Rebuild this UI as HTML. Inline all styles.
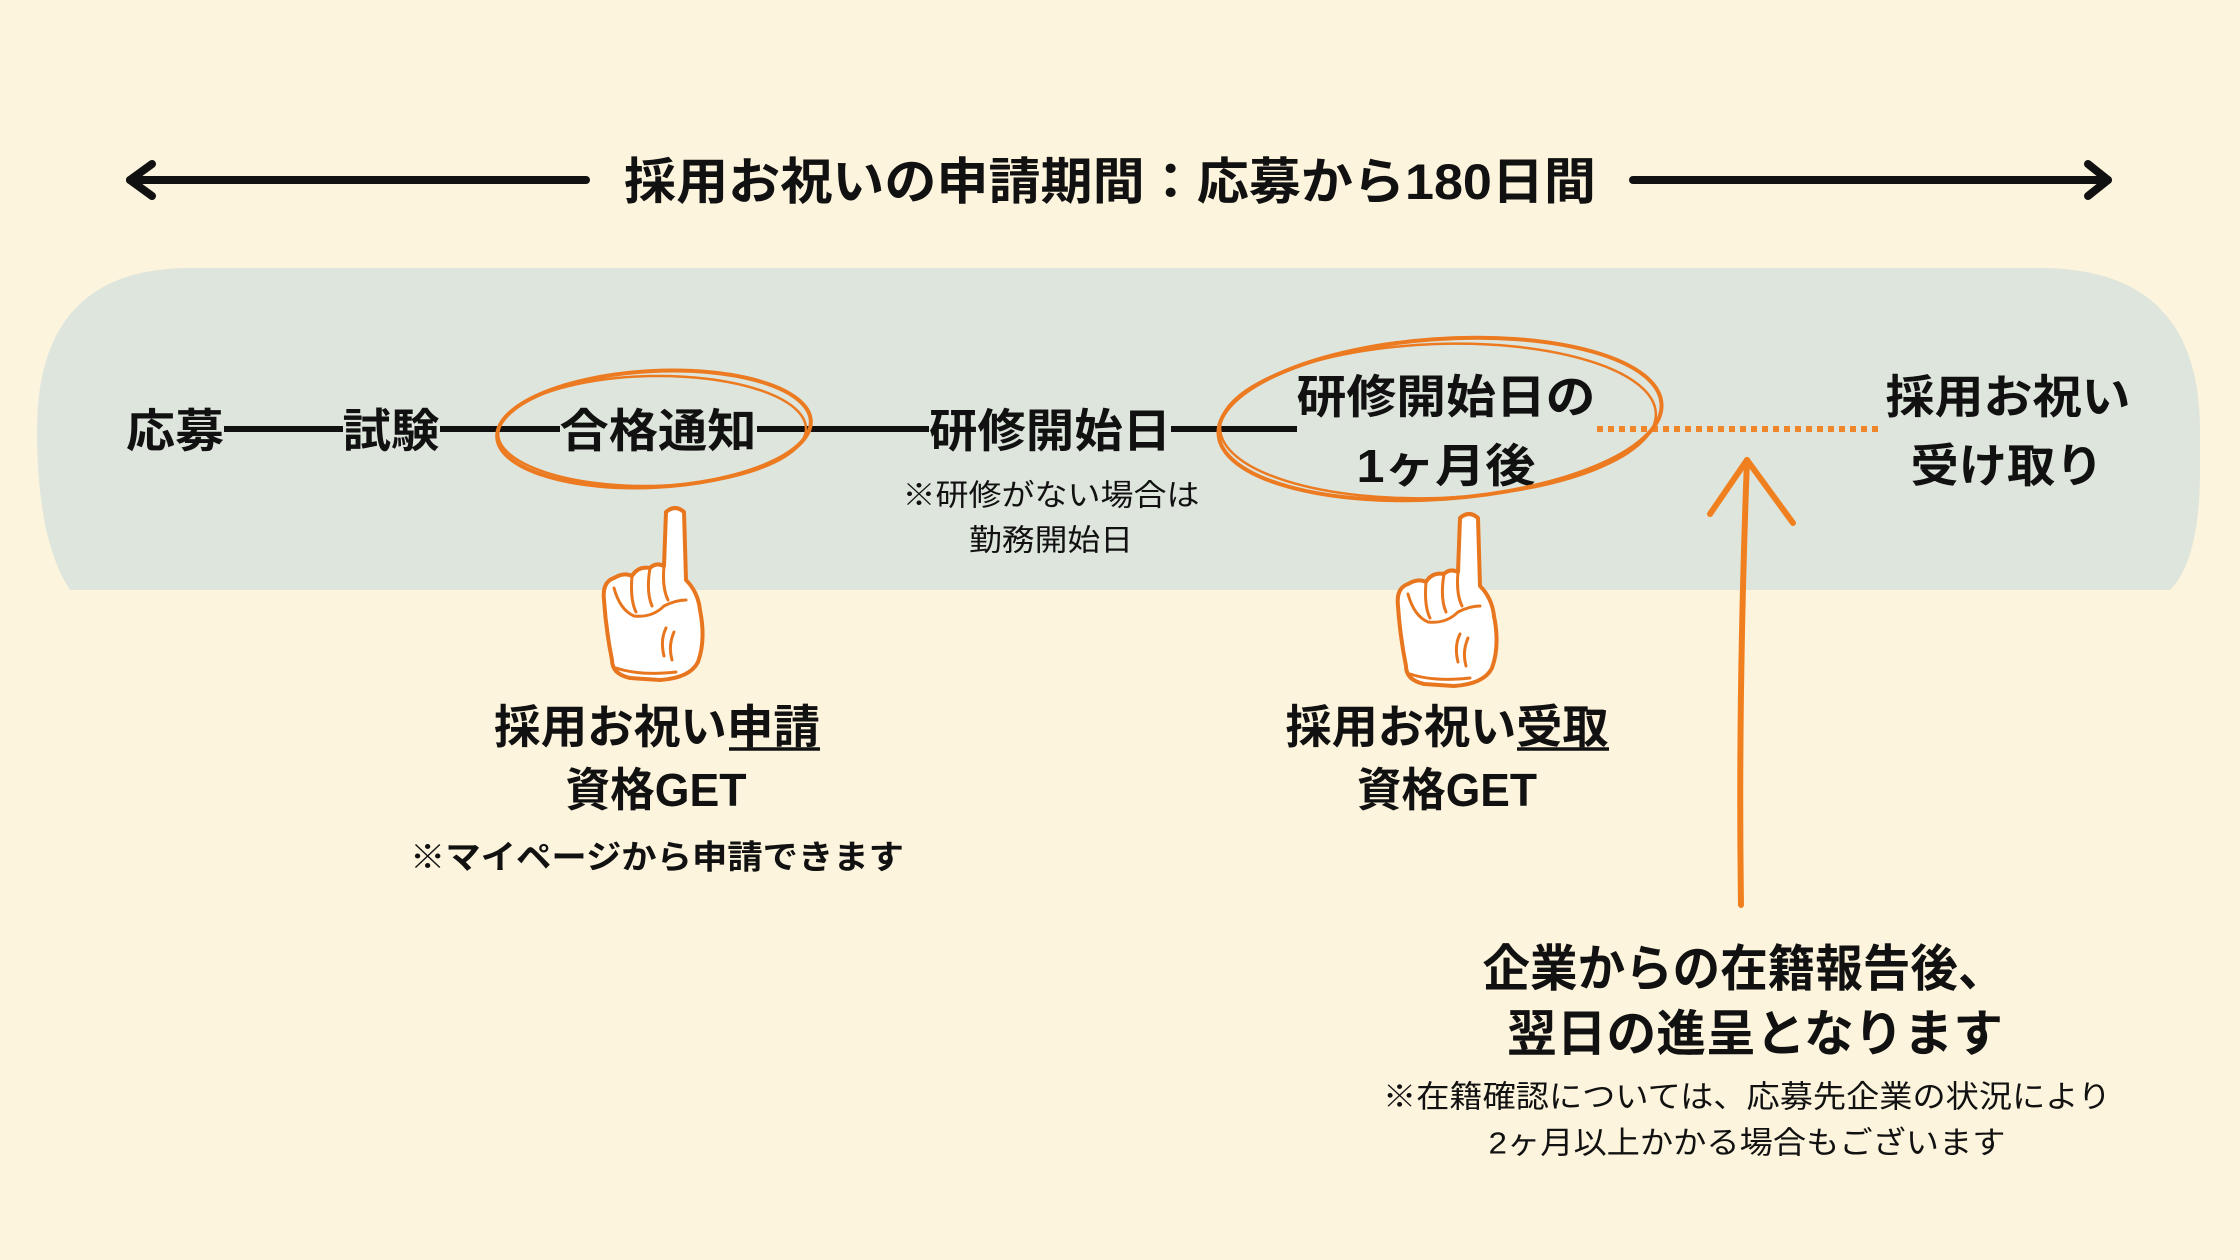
<!DOCTYPE html>
<html><head><meta charset="utf-8"><style>
html,body{margin:0;padding:0;background:#fcf4dd;}
svg{display:block}
text{font-family:"Liberation Sans","Noto Sans CJK JP",sans-serif;fill:#111;}
.b{font-weight:bold}
</style></head><body>
<svg width="2240" height="1260" viewBox="0 0 2240 1260" xmlns="http://www.w3.org/2000/svg">
<defs>
<g id="hand">
<path d="M86,12 Q95,4 104,12 L106,80 Q118,92 120,110 Q126,140 118,162 Q110,178 80,180 L50,178 Q32,174 32,160 Q26,130 24,100 Q22,82 34,78 Q44,72 52,76 Q58,66 70,68 Q76,62 84,66 Z" fill="#fff" stroke="#e8761e" stroke-width="4" stroke-linejoin="round"/>
<path d="M52,76 Q50,100 56,112 M70,68 Q66,92 72,106 M84,66 Q82,88 88,100 M34,88 Q40,110 54,116 Q72,118 84,106 Q96,100 106,100 M86,128 Q80,140 84,156 M94,132 Q88,146 92,160 M36,168 Q60,176 96,172" fill="none" stroke="#e8761e" stroke-width="3" stroke-linecap="round"/>
</g>
</defs>
<g stroke="#111" stroke-width="8" fill="none" stroke-linecap="round" stroke-linejoin="round">
<line x1="130" y1="180" x2="586" y2="180"/>
<polyline points="152,164 130,180 152,196"/>
<line x1="1633" y1="180" x2="2108" y2="180"/>
<polyline points="2088,164 2108,180 2088,196"/>
</g>
<g text-anchor="middle" dominant-baseline="central">
<text class="b" x="1110" y="182" font-size="50" textLength="972" lengthAdjust="spacingAndGlyphs">採用お祝いの申請期間：応募から180日間</text>
</g>
<path d="M190,268 L2040,268 Q2200,268 2200,430 L2200,470 Q2200,560 2170,590 L70,590 Q37,540 37,430 Q37,268 190,268 Z" fill="#dee5dd"/>
<g stroke="#111" stroke-width="6">
<line x1="224" y1="429" x2="343" y2="429"/>
<line x1="440" y1="429" x2="560" y2="429"/>
<line x1="757" y1="429" x2="929" y2="429"/>
<line x1="1171" y1="429" x2="1297" y2="429"/>
</g>
<line x1="1597" y1="429" x2="1883" y2="429" stroke="#f0862b" stroke-width="6" stroke-dasharray="6,5"/>
<g text-anchor="middle" dominant-baseline="central">
<text class="b" x="175" y="431" font-size="46" textLength="98" lengthAdjust="spacingAndGlyphs">応募</text>
<text class="b" x="391" y="431" font-size="46" textLength="97" lengthAdjust="spacingAndGlyphs">試験</text>
<text class="b" x="658" y="431" font-size="46" textLength="197" lengthAdjust="spacingAndGlyphs">合格通知</text>
<text class="b" x="1050" y="431" font-size="46" textLength="242" lengthAdjust="spacingAndGlyphs">研修開始日</text>
<text class="b" x="1446" y="397" font-size="46" textLength="299" lengthAdjust="spacingAndGlyphs">研修開始日の</text>
<text class="b" x="1446" y="466" font-size="46" textLength="179" lengthAdjust="spacingAndGlyphs">1ヶ月後</text>
<text class="b" x="2008" y="397" font-size="46" textLength="245" lengthAdjust="spacingAndGlyphs">採用お祝い</text>
<text class="b" x="2007" y="466" font-size="46" textLength="193" lengthAdjust="spacingAndGlyphs">受け取り</text>
<text x="1051" y="496" font-size="30" textLength="297" lengthAdjust="spacingAndGlyphs">※研修がない場合は</text>
<text x="1051" y="541" font-size="30" textLength="164" lengthAdjust="spacingAndGlyphs">勤務開始日</text>
</g>
<g fill="none" stroke="#ec7a20" stroke-width="4">
<ellipse cx="654" cy="429" rx="157" ry="58" transform="rotate(-3 654 429)"/>
<ellipse cx="652" cy="431" rx="154" ry="55" transform="rotate(-1 652 431)" stroke-width="2.5"/>
<ellipse cx="1440" cy="419" rx="222" ry="80" transform="rotate(-4 1440 419)"/>
<ellipse cx="1438" cy="421" rx="218" ry="77" transform="rotate(-2 1438 421)" stroke-width="2.5"/>
</g>
<use href="#hand" x="580" y="500"/>
<use href="#hand" x="1374" y="506"/>
<g stroke="#f0801f" stroke-width="6" fill="none" stroke-linecap="round" stroke-linejoin="round">
<path d="M1741,905 Q1738,700 1747,460"/>
<polyline points="1710,514 1747,460 1793,523"/>
</g>
<g text-anchor="middle" dominant-baseline="central">
<text class="b" x="657" y="727" font-size="46" textLength="326" lengthAdjust="spacingAndGlyphs">採用お祝い申請</text>
<text class="b" x="656" y="790" font-size="46" textLength="181" lengthAdjust="spacingAndGlyphs">資格GET</text>
<text class="b" x="1447" y="727" font-size="46" textLength="323" lengthAdjust="spacingAndGlyphs">採用お祝い受取</text>
<text class="b" x="1447" y="790" font-size="46" textLength="180" lengthAdjust="spacingAndGlyphs">資格GET</text>
<text class="b" x="657" y="857" font-size="33" textLength="494" lengthAdjust="spacingAndGlyphs">※マイページから申請できます</text>
<text class="b" x="1744" y="969" font-size="50" textLength="523" lengthAdjust="spacingAndGlyphs">企業からの在籍報告後、</text>
<text class="b" x="1755" y="1034" font-size="50" textLength="496" lengthAdjust="spacingAndGlyphs">翌日の進呈となります</text>
<text x="1747" y="1097" font-size="31" textLength="728" lengthAdjust="spacingAndGlyphs">※在籍確認については、応募先企業の状況により</text>
<text x="1747" y="1143" font-size="31" textLength="517" lengthAdjust="spacingAndGlyphs">2ヶ月以上かかる場合もございます</text>
</g>
<line x1="729" y1="749" x2="820" y2="749" stroke="#111" stroke-width="3.5"/>
<line x1="1517" y1="749" x2="1609" y2="749" stroke="#111" stroke-width="3.5"/>
</svg>
</body></html>
